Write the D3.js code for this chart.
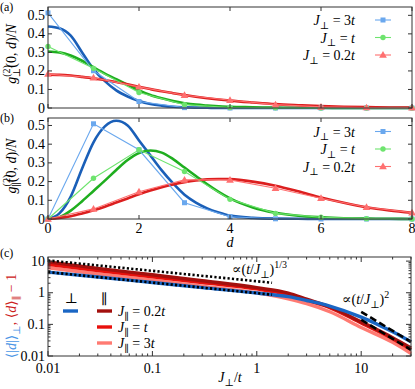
<!DOCTYPE html>
<html><head><meta charset="utf-8">
<script src="https://cdn.jsdelivr.net/npm/d3@7"></script>
<style>
body{margin:0;background:#fff}
svg text{font-family:"Liberation Serif","DejaVu Serif",serif;fill:#000}
</style>
</head><body><div id="chart"></div>
<script>
const W = 415, H = 389

// ---- panels (a), (b): integer separations d with markers ----
const dInt = [0, 1, 2, 3, 4, 5, 6, 7, 8]
const aMark3t = [0.513, 0.201, 0.035, 0.002, 0, 0, 0, 0, 0]
const aMark1t = [0.332, 0.214, 0.084, 0.018, 0.003, 0.001, 0, 0, 0]
const aMark02t = [0.183, 0.163, 0.114, 0.069, 0.042, 0.018, 0.006, 0.002, 0.001]
const bMark3t = [0, 0.509, 0.37, 0.087, 0.012, 0.001, 0, 0, 0]
const bMark1t = [0, 0.218, 0.37, 0.254, 0.105, 0.03, 0.009, 0.002, 0]
const bMark02t = [0, 0.054, 0.146, 0.209, 0.209, 0.164, 0.111, 0.063, 0.034]

// smooth (continuum) curves, sampled on a finer grid of d
const dFine = [0, 0.25, 0.5, 0.75, 1, 1.25, 1.5, 1.75, 2, 2.25, 2.5, 2.75, 3, 3.25, 3.5, 3.75, 4, 4.5, 5, 5.5, 6, 6.5, 7, 7.5, 8]
const aCurve3t = [0.44, 0.43, 0.39, 0.30, 0.21, 0.145, 0.095, 0.062, 0.038, 0.022, 0.013, 0.007, 0.004, 0.002, 0.001, 0, 0, 0, 0, 0, 0, 0, 0, 0, 0]
const aCurve1t = [0.305, 0.30, 0.283, 0.255, 0.22, 0.186, 0.155, 0.125, 0.095, 0.07, 0.052, 0.037, 0.026, 0.018, 0.013, 0.009, 0.006, 0.004, 0.002, 0.001, 0.001, 0, 0, 0, 0]
const aCurve02t = [0.18, 0.179, 0.175, 0.168, 0.16, 0.15, 0.14, 0.128, 0.115, 0.102, 0.09, 0.08, 0.07, 0.061, 0.053, 0.046, 0.04, 0.03, 0.021, 0.015, 0.01, 0.007, 0.005, 0.003, 0.002]
const bCurve3t = [0, 0.03, 0.12, 0.27, 0.41, 0.495, 0.525, 0.50, 0.42, 0.34, 0.26, 0.19, 0.13, 0.088, 0.057, 0.035, 0.018, 0.006, 0.002, 0.001, 0, 0, 0, 0, 0]
const bCurve1t = [0, 0.01, 0.045, 0.095, 0.15, 0.205, 0.262, 0.315, 0.353, 0.366, 0.355, 0.32, 0.275, 0.23, 0.185, 0.145, 0.11, 0.062, 0.033, 0.017, 0.009, 0.004, 0.002, 0.001, 0]
const bCurve02t = [0, 0.005, 0.015, 0.03, 0.047, 0.066, 0.088, 0.11, 0.132, 0.152, 0.17, 0.185, 0.197, 0.206, 0.212, 0.214, 0.213, 0.2, 0.178, 0.148, 0.115, 0.087, 0.063, 0.046, 0.033]

const seriesNames = ['3t', 't', '0.2t']

// ---- panel (c): log-log ----
const jFine = [0.01, 0.03, 0.1, 0.3, 1, 2, 3, 5, 10, 20, 30]
const cPerp = [4.5, 3.15, 2.1, 1.45, 0.98, 0.75, 0.57, 0.38, 0.17, 0.058, 0.028]
const cPar02t = [9.5, 5.9, 3.7, 2.4, 1.45, 0.98, 0.63, 0.36, 0.12, 0.038, 0.018]
const cPar1t = [8.0, 5.0, 3.2, 2.1, 1.32, 0.88, 0.58, 0.34, 0.11, 0.035, 0.016]
const cPar3t = [6.2, 3.9, 2.5, 1.6, 1.0, 0.64, 0.45, 0.25, 0.08, 0.027, 0.012]
const guideThirdX = [0.01, 1.4]
const guideThirdUpper = [10.5, 2.07]
const guideThirdLower = [4.5, 0.87]
const guideSqX = [10, 30]
const guideSqUpper = [0.25, 0.028]
const guideSqLower = [0.14, 0.0156]

const cols = {
  blueL: '#6aa8ee', blueD: '#1a5fb8',
  greenL: '#6ee46e', greenD: '#1fae1f',
  redL: '#ff7070', redD: '#dc1f1f',
  cRed02: '#a3100e', cRed1: '#e8100c', cRed3: '#ff7a72', cBlue: '#1a66c4'
}
const FONT = '"Liberation Serif","DejaVu Serif",serif'

const svg = d3.select('#chart').append('svg').attr('width', W).attr('height', H)
  .style('font-family', FONT)

// helper for math-like text runs
function mathText(g, x, y, parts, anchor, rotate, size) {
  const t = g.append('text')
    .attr('text-anchor', anchor || 'start')
    .attr('font-size', size || 14)
    .style('font-family', FONT)
  if (rotate) t.attr('transform', `translate(${x},${y}) rotate(-90)`)
  else t.attr('x', x).attr('y', y)
  let off = 0
  parts.forEach(p => {
    const s = t.append('tspan').text(p.t)
    if (p.it) s.attr('font-style', 'italic')
    if (p.size) s.attr('font-size', p.size)
    if (p.fill) s.style('fill', p.fill)
    const target = p.sub ? 3.5 : p.sup ? -6 : 0
    if (target !== off) { s.attr('dy', target - off); off = target }
    if (p.dx) s.attr('dx', p.dx)
  })
  return t
}
function plainText(g, x, y, str, anchor, size) {
  return g.append('text').attr('x', x).attr('y', y).attr('text-anchor', anchor || 'start')
    .attr('font-size', size || 14).style('font-family', FONT).text(str)
}

const L = 48, R = 412
const xD = d3.scaleLinear().domain([0, 8]).range([L, R])

function marker(g, type, x, y, c) {
  if (type === 'sq') g.append('rect').attr('x', x - 2.5).attr('y', y - 2.5).attr('width', 5).attr('height', 5).attr('fill', c)
  else if (type === 'ci') g.append('circle').attr('cx', x).attr('cy', y).attr('r', 2.7).attr('fill', c)
  else g.append('path').attr('d', d3.symbol(d3.symbolTriangle, 26)()).attr('transform', `translate(${x},${y + 0.5})`).attr('fill', c)
}

function panelD(top, bottom, ymax, curves, marks, label, xLabels, legendY) {
  const g = svg.append('g')
  const y = d3.scaleLinear().domain([0, ymax]).range([bottom, top])
  const line = d3.line().x(d => xD(d[0])).y(d => y(d[1]))
  // thick continuum curves
  curves.forEach(c => {
    g.append('path').datum(dFine.map((d, i) => [d, c.v[i]]))
      .attr('d', line.curve(d3.curveMonotoneX)).attr('fill', 'none')
      .attr('stroke', c.col).attr('stroke-width', 2.6)
  })
  // thin lines + markers
  marks.forEach(m => {
    g.append('path').datum(dInt.map((d, i) => [d, m.v[i]]))
      .attr('d', line.curve(d3.curveLinear)).attr('fill', 'none')
      .attr('stroke', m.col).attr('stroke-width', 1.1)
    dInt.forEach((d, i) => marker(g, m.type, xD(d), y(m.v[i]), m.col))
  })
  // frame + ticks
  g.append('rect').attr('x', L).attr('y', top).attr('width', R - L).attr('height', bottom - top)
    .attr('fill', 'none').attr('stroke', '#333').attr('stroke-width', 1)
  const yt = [0, 0.1, 0.2, 0.3, 0.4, 0.5]
  yt.forEach(v => {
    g.append('line').attr('x1', L).attr('x2', L + 4).attr('y1', y(v)).attr('y2', y(v)).attr('stroke', '#333')
    g.append('line').attr('x1', R).attr('x2', R - 4).attr('y1', y(v)).attr('y2', y(v)).attr('stroke', '#333')
    plainText(g, 45, y(v) + 4.5, v === 0 ? '0' : d3.format('.1f')(v), 'end')
  })
  ;[0, 2, 4, 6, 8].forEach(v => {
    g.append('line').attr('x1', xD(v)).attr('x2', xD(v)).attr('y1', bottom).attr('y2', bottom - 4).attr('stroke', '#333')
    g.append('line').attr('x1', xD(v)).attr('x2', xD(v)).attr('y1', top).attr('y2', top + 4).attr('stroke', '#333')
    if (xLabels) plainText(g, xD(v), bottom + 14, String(v), 'middle')
  })
  // panel label
  plainText(g, 0, top + 4, label, 'start', 12)
  // legend
  marks.forEach((m, i) => {
    const ly = legendY + i * 17.5
    mathText(g, 355, ly + 5, [{ t: 'J', it: true }, { t: '⊥', sub: true, size: 10 }, { t: ' = ' + seriesNames[i].replace('t', '') }, { t: 't', it: true }], 'end')
    g.append('line').attr('x1', 375).attr('x2', 391).attr('y1', ly).attr('y2', ly).attr('stroke', m.col).attr('stroke-width', 1.1)
    marker(g, m.type, 383, ly, m.col)
  })
  return { g, y }
}

const pa = panelD(7, 108, 0.545,
  [{ v: aCurve3t, col: cols.blueD }, { v: aCurve1t, col: cols.greenD }, { v: aCurve02t, col: cols.redD }],
  [{ v: aMark3t, col: cols.blueL, type: 'sq' }, { v: aMark1t, col: cols.greenL, type: 'ci' }, { v: aMark02t, col: cols.redL, type: 'tr' }],
  '(a)', false, 20)
mathText(pa.g, 16, 54, [{ t: 'g', it: true }, { t: '(2)', sup: true, size: 10 }, { t: '⊥', sub: true, size: 10, dx: -12 }, { t: '(0, ' }, { t: 'd', it: true }, { t: ')/' }, { t: 'N', it: true }], 'middle', true)

const pb = panelD(118, 219, 0.54,
  [{ v: bCurve3t, col: cols.blueD }, { v: bCurve1t, col: cols.greenD }, { v: bCurve02t, col: cols.redD }],
  [{ v: bMark3t, col: cols.blueL, type: 'sq' }, { v: bMark1t, col: cols.greenL, type: 'ci' }, { v: bMark02t, col: cols.redL, type: 'tr' }],
  '(b)', true, 131.5)
mathText(pb.g, 16, 166, [{ t: 'g', it: true }, { t: '(2)', sup: true, size: 10 }, { t: '∥', sub: true, size: 10, dx: -12 }, { t: '(0, ' }, { t: 'd', it: true }, { t: ')/' }, { t: 'N', it: true }], 'middle', true)
plainText(svg, xD(4), 247, 'd', 'middle').attr('font-style', 'italic')

// ---- panel (c) ----
const cT = 257, cB = 356, cR = 411
const xC = d3.scaleLog().domain([0.01, 30]).range([L, cR])
const yC = d3.scaleLog().domain([0.01, 13.5]).range([cB, cT])
const gc = svg.append('g')
const lineC = d3.line().x(d => xC(d[0])).y(d => yC(d[1])).curve(d3.curveMonotoneX)
const cSeries = [
  { v: cPar3t, col: cols.cRed3 },
  { v: cPar1t, col: cols.cRed1 },
  { v: cPar02t, col: cols.cRed02 },
  { v: cPerp, col: cols.cBlue }
]
cSeries.forEach(s => {
  gc.append('path').datum(jFine.map((j, i) => [j, s.v[i]])).attr('d', lineC)
    .attr('fill', 'none').attr('stroke', s.col).attr('stroke-width', 3.4)
})
const lineG = d3.line().x(d => xC(d[0])).y(d => yC(d[1]))
;[guideThirdUpper, guideThirdLower].forEach(v => {
  gc.append('path').datum(guideThirdX.map((j, i) => [j, v[i]])).attr('d', lineG)
    .attr('fill', 'none').attr('stroke', '#000').attr('stroke-width', 2.6).attr('stroke-dasharray', '2.2,2.2')
})
;[guideSqUpper, guideSqLower].forEach(v => {
  gc.append('path').datum(guideSqX.map((j, i) => [j, v[i]])).attr('d', lineG)
    .attr('fill', 'none').attr('stroke', '#000').attr('stroke-width', 2.6).attr('stroke-dasharray', '7,3.5')
})
gc.append('rect').attr('x', L).attr('y', cT).attr('width', cR - L).attr('height', cB - cT)
  .attr('fill', 'none').attr('stroke', '#333')
const isMajor = v => Math.abs(Math.log10(v) - Math.round(Math.log10(v))) < 1e-9
xC.ticks().forEach(v => {
  const len = isMajor(v) ? 5 : 2.5
  gc.append('line').attr('x1', xC(v)).attr('x2', xC(v)).attr('y1', cB).attr('y2', cB - len).attr('stroke', '#333')
  gc.append('line').attr('x1', xC(v)).attr('x2', xC(v)).attr('y1', cT).attr('y2', cT + len).attr('stroke', '#333')
  if (isMajor(v)) plainText(gc, xC(v), cB + 17, String(v), 'middle')
})
yC.ticks().forEach(v => {
  const len = isMajor(v) ? 5 : 2.5
  gc.append('line').attr('x1', L).attr('x2', L + len).attr('y1', yC(v)).attr('y2', yC(v)).attr('stroke', '#333')
  gc.append('line').attr('x1', cR).attr('x2', cR - len).attr('y1', yC(v)).attr('y2', yC(v)).attr('stroke', '#333')
  if (isMajor(v)) plainText(gc, 45, yC(v) + 4.5, String(v), 'end')
})
plainText(gc, 0, 257, '(c)', 'start', 12)
mathText(gc, 230, 382, [{ t: 'J', it: true }, { t: '⊥', sub: true, size: 10 }, { t: '/' }, { t: 't', it: true }], 'middle')
mathText(gc, 16, 316, [
  { t: '⟨|', fill: '#4a95e6' }, { t: 'd', it: true, fill: '#4a95e6' }, { t: '|⟩', fill: '#4a95e6' }, { t: '⊥', sub: true, size: 10, fill: '#4a95e6' },
  { t: ', ⟨', fill: '#cc2020' }, { t: 'd', it: true, fill: '#cc2020' }, { t: '⟩', fill: '#cc2020' }, { t: '∥', sub: true, size: 10, fill: '#cc2020' }, { t: ' − 1', fill: '#cc2020' }
], 'middle', true)
// annotations
mathText(gc, 232, 274, [{ t: '∝(' }, { t: 't', it: true }, { t: '/' }, { t: 'J', it: true }, { t: '⊥', sub: true, size: 10 }, { t: ')' }, { t: '1/3', sup: true, size: 10 }])
mathText(gc, 342, 304, [{ t: '∝(' }, { t: 't', it: true }, { t: '/' }, { t: 'J', it: true }, { t: '⊥', sub: true, size: 10 }, { t: ')' }, { t: '2', sup: true, size: 10 }])
// legend (c)
plainText(gc, 71, 303, '⊥', 'middle')
plainText(gc, 104, 304, '∥', 'middle')
gc.append('line').attr('x1', 63).attr('x2', 78).attr('y1', 311).attr('y2', 311).attr('stroke', cols.cBlue).attr('stroke-width', 3.4)
const cLeg = [{ col: cols.cRed02, n: '0.2' }, { col: cols.cRed1, n: '' }, { col: cols.cRed3, n: '3' }]
cLeg.forEach((l, i) => {
  const ly = 311 + i * 16
  gc.append('line').attr('x1', 97).attr('x2', 112).attr('y1', ly).attr('y2', ly).attr('stroke', l.col).attr('stroke-width', 3.4)
  mathText(gc, 118, ly + 5, [{ t: 'J', it: true }, { t: '∥', sub: true, size: 10 }, { t: ' = ' + l.n }, { t: 't', it: true }])
})
</script>
</body></html>
